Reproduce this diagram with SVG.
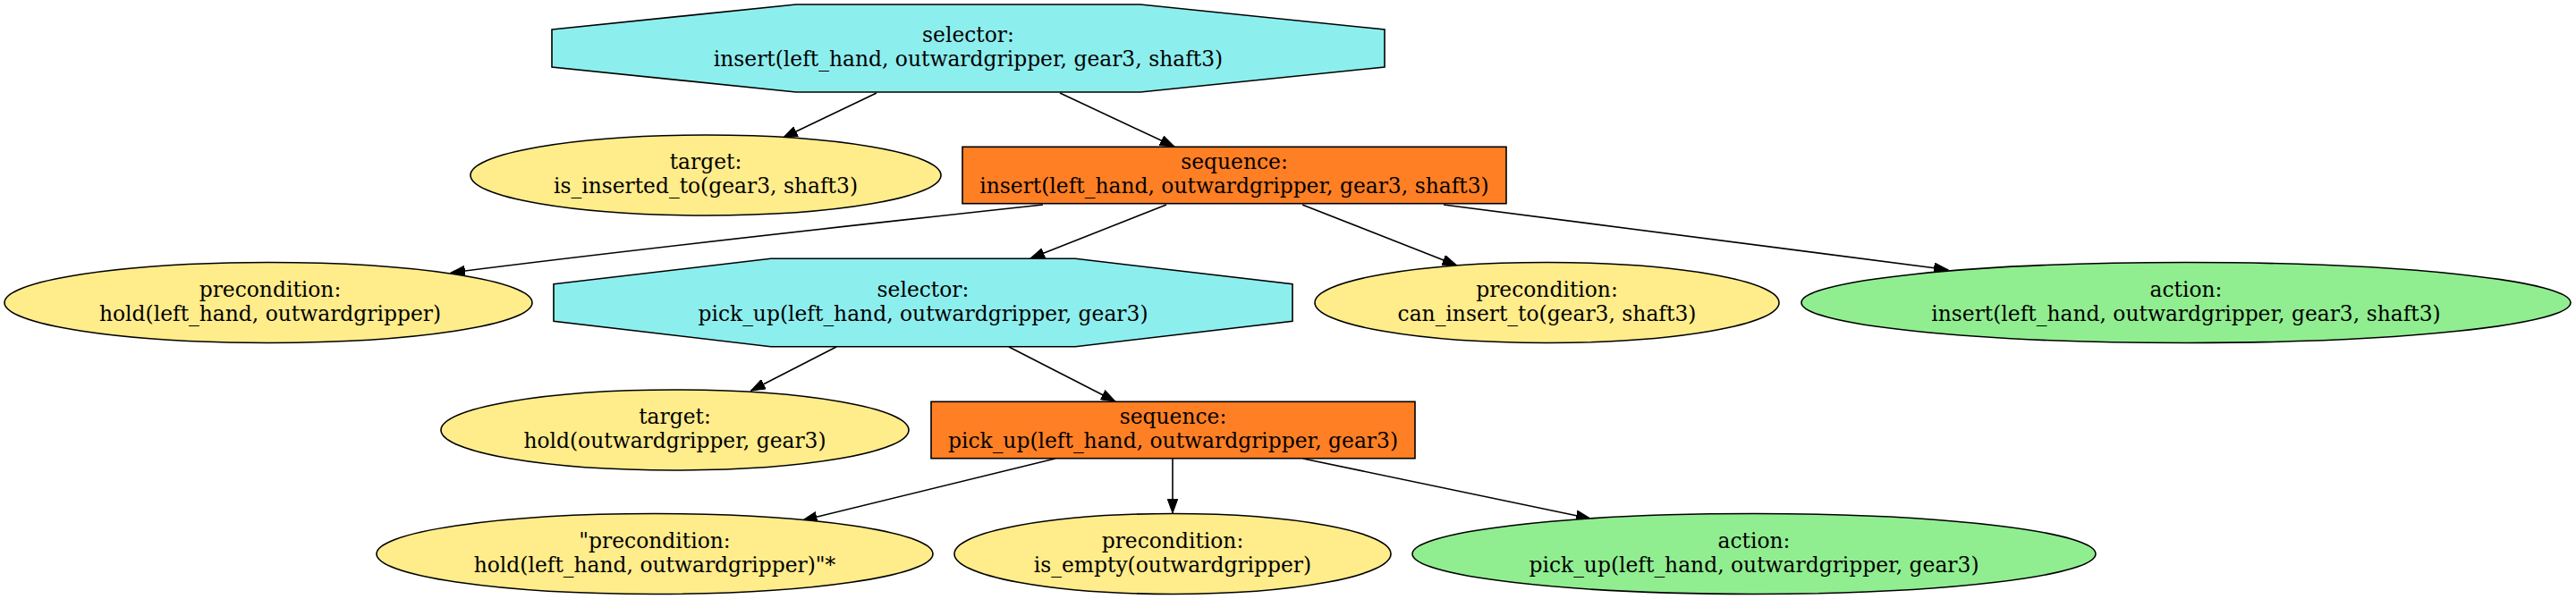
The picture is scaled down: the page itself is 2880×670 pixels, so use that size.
<svg xmlns="http://www.w3.org/2000/svg" width="2880" height="670" viewBox="0 0 2880 670">
<defs>
<style>
.n{stroke:#000;stroke-width:1.6}
.oct{fill:#8DEEEE}
.seq{fill:#FF7F24}
.cond{fill:#FFEC8B}
.act{fill:#90EE90}
text{font-family:"DejaVu Serif","Liberation Serif",serif;font-size:23.4px;text-anchor:middle;fill:#000}
.e{fill:none;stroke:#000;stroke-width:1.6;marker-end:url(#ah)}
</style>
<marker id="ah" markerWidth="17" markerHeight="12" refX="16" refY="6" orient="auto" markerUnits="userSpaceOnUse">
<path d="M0,0.2 L16,6 L0,11.8 z" fill="#000" stroke="#000" stroke-width="1"/>
</marker>
</defs>
<rect width="2880" height="670" fill="#fff"/>
<g id="connectors">
<path class="e" d="M980,104 L875.5,154"/>
<path class="e" d="M1185,104 L1313,164"/>
<path class="e" d="M1166,229 C1000,247 700,280 504,305"/>
<path class="e" d="M1304,229 L1152,289"/>
<path class="e" d="M1456,229 L1628.6,296.7"/>
<path class="e" d="M1614,229 L2178,301.7"/>
<path class="e" d="M935,388 L839.5,437"/>
<path class="e" d="M1128,388 L1247,449"/>
<path class="e" d="M1179.5,513 L897.5,582"/>
<path class="e" d="M1311,513 L1311,574"/>
<path class="e" d="M1457,513 L1778,580"/>
</g>
<g id="sel_insert">
<polygon class="n oct" points="617,33 890,5 1275,5 1548,33 1548,75 1275,103 890,103 617,75"/>
<text x="1082.5" y="47">selector:</text>
<text x="1082.5" y="74">insert(left_hand, outwardgripper, gear3, shaft3)</text>
</g>
<g id="target_inserted">
<ellipse class="n cond" cx="789" cy="196" rx="263" ry="45"/>
<text x="789" y="189">target:</text>
<text x="789" y="216">is_inserted_to(gear3, shaft3)</text>
</g>
<g id="seq_insert">
<rect class="n seq" x="1076" y="164.3" width="608" height="63.4"/>
<text x="1380" y="189">sequence:</text>
<text x="1380" y="216">insert(left_hand, outwardgripper, gear3, shaft3)</text>
</g>
<g id="pre_hold_hand">
<ellipse class="n cond" cx="300" cy="338.5" rx="295" ry="45"/>
<text x="302" y="331.5">precondition:</text>
<text x="302" y="358.5">hold(left_hand, outwardgripper)</text>
</g>
<g id="sel_pickup">
<polygon class="n oct" points="619,317.7 861.7,289.3 1202.3,289.3 1445,317.7 1445,359.3 1202.3,387.7 861.7,387.7 619,359.3"/>
<text x="1032" y="331.5">selector:</text>
<text x="1032" y="358.5">pick_up(left_hand, outwardgripper, gear3)</text>
</g>
<g id="pre_can_insert">
<ellipse class="n cond" cx="1729.5" cy="338.5" rx="259.5" ry="45"/>
<text x="1729.5" y="331.5">precondition:</text>
<text x="1729.5" y="358.5">can_insert_to(gear3, shaft3)</text>
</g>
<g id="act_insert">
<ellipse class="n act" cx="2444" cy="338.5" rx="430" ry="45"/>
<text x="2444" y="331.5">action:</text>
<text x="2444" y="358.5">insert(left_hand, outwardgripper, gear3, shaft3)</text>
</g>
<g id="target_hold">
<ellipse class="n cond" cx="754.5" cy="481" rx="261.5" ry="45"/>
<text x="754.5" y="474">target:</text>
<text x="754.5" y="501">hold(outwardgripper, gear3)</text>
</g>
<g id="seq_pickup">
<rect class="n seq" x="1041" y="449.3" width="541" height="63.4"/>
<text x="1311.5" y="474">sequence:</text>
<text x="1311.5" y="501">pick_up(left_hand, outwardgripper, gear3)</text>
</g>
<g id="pre_hold_quoted">
<ellipse class="n cond" cx="732" cy="619.5" rx="311" ry="45"/>
<text x="732" y="612.5">"precondition:</text>
<text x="732" y="639.5">hold(left_hand, outwardgripper)"*</text>
</g>
<g id="pre_is_empty">
<ellipse class="n cond" cx="1311" cy="619.5" rx="244" ry="45"/>
<text x="1311" y="612.5">precondition:</text>
<text x="1311" y="639.5">is_empty(outwardgripper)</text>
</g>
<g id="act_pickup">
<ellipse class="n act" cx="1961" cy="619.5" rx="382" ry="45"/>
<text x="1961" y="612.5">action:</text>
<text x="1961" y="639.5">pick_up(left_hand, outwardgripper, gear3)</text>
</g>
</svg>
